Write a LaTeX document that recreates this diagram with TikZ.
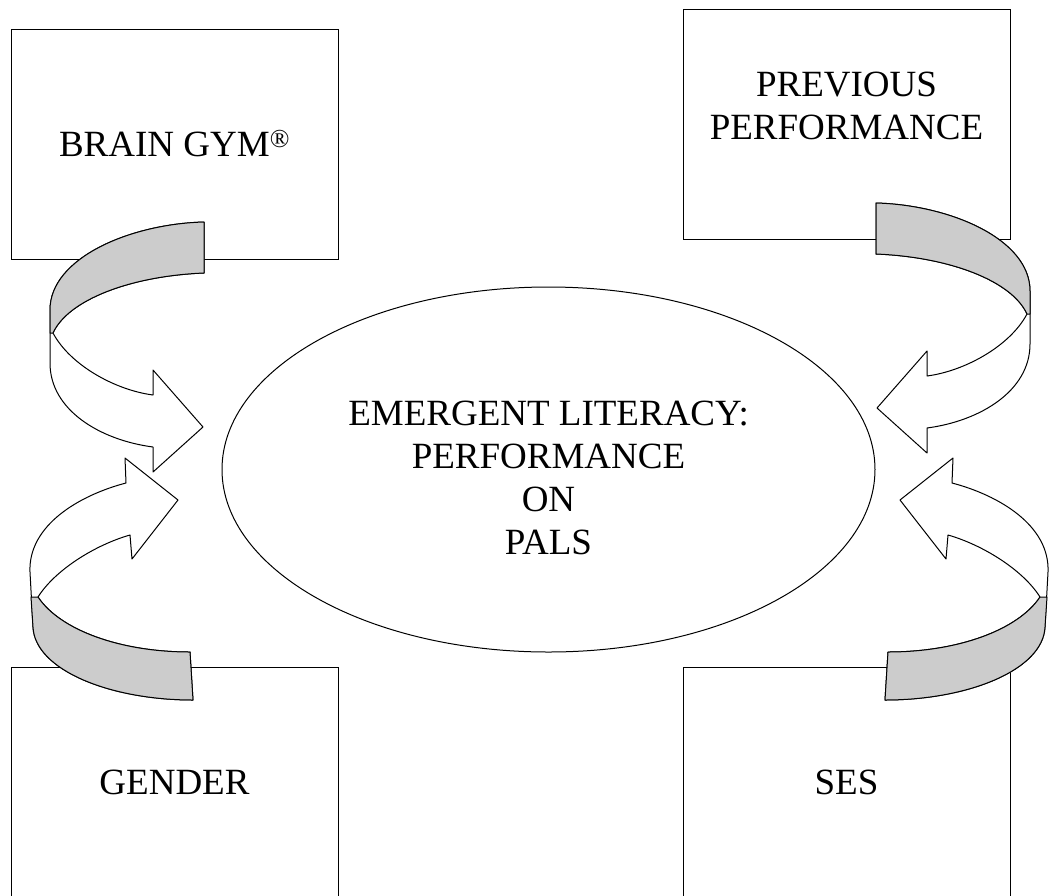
\documentclass[tikz,border=0pt]{standalone}
\usepackage{fontspec}
\setmainfont{Liberation Serif}
\usetikzlibrary{shapes.geometric}

\tikzset{
  factor/.style={draw, line width=1pt, minimum width=327pt, minimum height=230pt, inner sep=0pt,
    align=center, font=\fontsize{37}{43}\selectfont},
  outcome/.style={draw, ellipse, line width=1pt, minimum width=653pt, minimum height=365pt, inner sep=0pt},
  caption/.style={inner sep=0pt, align=center, font=\fontsize{37}{43}\selectfont},
  ribbon/.style={draw, line width=1pt, fill=white, line join=round},
  ribbonback/.style={draw, line width=1pt, fill=black!20, line join=round}
}

\begin{document}
\begin{tikzpicture}[x=1pt,y=1pt,yscale=-1,xscale=1]
  \useasboundingbox (0,0) rectangle (1050,895);

  % the four factor boxes
  \node[factor] (gym) at (174.5,144) {BRAIN GYM\textsuperscript{\textregistered}};
  \node[factor] (prev) at (846.5,124.5) {};
  \node[caption] (prevtext) at (846.5,106) {PREVIOUS\\PERFORMANCE};
  \node[factor] (gender) at (174.5,782) {GENDER};
  \node[factor] (ses) at (846.5,782) {SES};

  % outcome in the middle
  \node[outcome] (pals) at (548.5,469.5) {};
  \node[caption] (palstext) at (548.5,478) {EMERGENT LITERACY:\\PERFORMANCE\\ON\\PALS};

  % Curved arrow: top left
  \draw[ribbon] (204,222) -- (204,273) .. controls (130,276) and (68,300) .. (53,333)
    .. controls (70,365) and (115,390) .. (153,395) -- (153,370) -- (203,427) -- (153,472) -- (153,447)
    .. controls (100,440) and (50,410) .. (50,363) -- (50,310) .. controls (50,258) and (130,224) .. (204,222) -- cycle;
  \draw[ribbonback] (204,222) -- (204,273) .. controls (130,276) and (68,300) .. (53,333) -- (50,333)
    -- (50,310) .. controls (50,258) and (130,224) .. (204,222) -- cycle;

  % Curved arrow: top right
  \begin{scope}[shift={(1080,-19)},xscale=-1]
    \draw[ribbon] (204,222) -- (204,273) .. controls (130,276) and (68,300) .. (53,333)
      .. controls (70,365) and (115,390) .. (153,395) -- (153,370) -- (203,427) -- (153,472) -- (153,447)
      .. controls (100,440) and (50,410) .. (50,363) -- (50,310) .. controls (50,258) and (130,224) .. (204,222) -- cycle;
    \draw[ribbonback] (204,222) -- (204,273) .. controls (130,276) and (68,300) .. (53,333) -- (50,333)
      -- (50,310) .. controls (50,258) and (130,224) .. (204,222) -- cycle;
  \end{scope}

  % Curved arrow: bottom left
  \draw[ribbon] (190,652) -- (193,700) .. controls (110,700) and (35,670) .. (33,627) -- (30,572)
    .. controls (28,525) and (80,495) .. (126,483) -- (125,458) -- (178,500) -- (132,559) -- (130,535)
    .. controls (95,545) and (55,570) .. (38,597) .. controls (60,630) and (120,652) .. (190,652) -- cycle;
  \draw[ribbonback] (190,652) -- (193,700) .. controls (110,700) and (35,670) .. (33,627) -- (31,597)
    -- (38,597) .. controls (60,630) and (120,652) .. (190,652) -- cycle;

  % Curved arrow: bottom right
  \begin{scope}[shift={(1078,0)},xscale=-1]
    \draw[ribbon] (190,652) -- (193,700) .. controls (110,700) and (35,670) .. (33,627) -- (30,572)
      .. controls (28,525) and (80,495) .. (126,483) -- (125,458) -- (178,500) -- (132,559) -- (130,535)
      .. controls (95,545) and (55,570) .. (38,597) .. controls (60,630) and (120,652) .. (190,652) -- cycle;
    \draw[ribbonback] (190,652) -- (193,700) .. controls (110,700) and (35,670) .. (33,627) -- (31,597)
      -- (38,597) .. controls (60,630) and (120,652) .. (190,652) -- cycle;
  \end{scope}
\end{tikzpicture}
\end{document}
